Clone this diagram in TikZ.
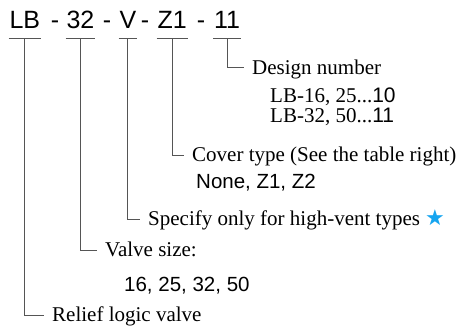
\documentclass[tikz,border=0pt]{standalone}
\usepackage{fontspec}
\setmainfont{Liberation Serif}
\setsansfont{Liberation Sans}
\newfontfamily\symfont{DejaVu Sans}
\usepackage{xcolor}
\usepackage{tikz}
\usetikzlibrary{positioning}

\definecolor{ventblue}{RGB}{22,165,240}
\definecolor{leadgray}{RGB}{85,85,85}

\begin{document}
\begin{tikzpicture}[
  x=1pt, y=-1pt,
  code/.style={font=\sffamily\fontsize{25}{25}\selectfont, inner ysep=0pt, inner xsep=0.8pt, text depth=9pt, anchor=base west},
  sep/.style={font=\sffamily\fontsize{25}{25}\selectfont, inner sep=0pt, anchor=base},
  lbl/.style={font=\fontsize{21}{21}\selectfont, inner sep=0pt, text height=13pt, text depth=0pt, anchor=west},
  sub/.style={font=\fontsize{21}{21}\selectfont, inner sep=0pt, anchor=base west},
  subsf/.style={sub, font=\sffamily\fontsize{20.5}{20.5}\selectfont},
  uline/.style={draw=leadgray, line width=0.9pt},
  lead/.style={uline, shorten >=8pt}
]
\useasboundingbox (0,0) rectangle (463,329);

% model code
\node[code] (lb)     at (8.5,29)   {LB};
\node[sep]  (d1)     at (55,29)  {-};
\node[code] (size)   at (65.5,29)  {32};
\node[sep]  (d2)     at (107,29) {-};
\node[code] (vent)   at (118.5,29) {V};
\node[sep]  (d3)     at (145,29) {-};
\node[code] (cover)  at (156.5,29) {Z1};
\node[sep]  (d4)     at (201,29) {-};
\node[code] (design) at (213,29) {11};

\foreach \n in {lb,size,vent,cover,design}
  \draw[uline] (\n.south west) -- (\n.south east);

% labels
\node[lbl] (designlbl) at (252,67.7) {Design number};
\node[sub] (designa) at (270,102) {LB-16, 25...{\sffamily 10}};
\node[sub] (designb) at (270,122) {LB-32, 50...{\sffamily 11}};
\node[lbl] (coverlbl) at (192,155) {Cover type (See the table right)};
\node[subsf] (covers) at (196,188) {None, Z1, Z2};
\node[lbl] (ventlbl) at (148,219) {Specify only for high-vent types {\symfont\fontsize{22}{22}\selectfont\textcolor{ventblue}{★}}};
\node[lbl] (sizelbl) at (105,250) {Valve size:};
\node[subsf] (sizes) at (124,291) {16, 25, 32, 50};
\node[lbl] (relief) at (52,315) {Relief logic valve};

% leaders
\draw[lead] (design.south) |- (designlbl.west);
\draw[lead] (cover.south) |- (coverlbl.west);
\draw[lead] (vent.south) |- (ventlbl.west);
\draw[lead] (size.south) |- (sizelbl.west);
\draw[lead] (lb.south) |- (relief.west);
\end{tikzpicture}
\end{document}
